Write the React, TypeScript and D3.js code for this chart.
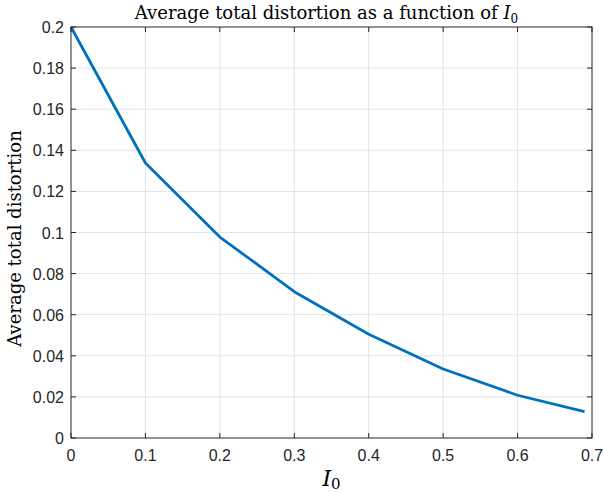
import * as d3 from "d3";
import { useEffect, useRef } from "react";

// I0 values and average distortion
const i0Values = [0, 0.1, 0.2, 0.3, 0.4, 0.5, 0.6, 0.69];
const distortion = [0.2, 0.1338, 0.0978, 0.0712, 0.0505, 0.0336, 0.0208, 0.0128];
const xTicks = [0, 0.1, 0.2, 0.3, 0.4, 0.5, 0.6, 0.7];
const yTicks = [0, 0.02, 0.04, 0.06, 0.08, 0.1, 0.12, 0.14, 0.16, 0.18, 0.2];

function App() {
    const svgRef = useRef<SVGSVGElement>(null);

    useEffect(() => {
        const svg = d3.select(svgRef.current);
        svg.selectAll("*").remove();

        const width = 603;
        const height = 493;
        const margin = { top: 27, right: 11, bottom: 55, left: 71 };
        const tickLen = 5;
        const sans = "'Liberation Sans', Arial, sans-serif";
        const serif = "'DejaVu Serif', 'Liberation Serif', serif";

        const x = d3.scaleLinear().domain([0, 0.7]).range([margin.left, width - margin.right]);
        const y = d3.scaleLinear().domain([0, 0.2]).range([height - margin.bottom, margin.top]);

        const [x0, x1] = x.range();
        const [y0, y1] = y.range();

        // grid
        const grid = svg.append("g").attr("stroke", "#e3e3e3").attr("stroke-width", 1);
        grid.selectAll("line.vx")
            .data(xTicks.slice(1, -1))
            .enter()
            .append("line")
            .attr("x1", d => x(d)).attr("x2", d => x(d))
            .attr("y1", y0).attr("y2", y1);
        grid.selectAll("line.hy")
            .data(yTicks.slice(1, -1))
            .enter()
            .append("line")
            .attr("y1", d => y(d)).attr("y2", d => y(d))
            .attr("x1", x0).attr("x2", x1);

        // line
        const line = d3.line<number>()
            .x((_, i) => x(i0Values[i]))
            .y(d => y(d));
        svg.append("path")
            .datum(distortion)
            .attr("fill", "none")
            .attr("stroke", "#0072BD")
            .attr("stroke-width", 2.8)
            .attr("stroke-linejoin", "round")
            .attr("d", line);

        // box + inner ticks
        const axes = svg.append("g").attr("stroke", "#262626").attr("stroke-width", 1);
        axes.append("rect")
            .attr("x", x0).attr("y", y1)
            .attr("width", x1 - x0).attr("height", y0 - y1)
            .attr("fill", "none");
        xTicks.forEach(t => {
            axes.append("line").attr("x1", x(t)).attr("x2", x(t)).attr("y1", y0).attr("y2", y0 - tickLen);
            axes.append("line").attr("x1", x(t)).attr("x2", x(t)).attr("y1", y1).attr("y2", y1 + tickLen);
        });
        yTicks.forEach(t => {
            axes.append("line").attr("y1", y(t)).attr("y2", y(t)).attr("x1", x0).attr("x2", x0 + tickLen);
            axes.append("line").attr("y1", y(t)).attr("y2", y(t)).attr("x1", x1).attr("x2", x1 - tickLen);
        });

        // tick labels
        svg.append("g")
            .selectAll("text")
            .data(xTicks)
            .enter()
            .append("text")
            .attr("x", d => x(d))
            .attr("y", y0 + 23)
            .attr("text-anchor", "middle")
            .style("font-family", sans)
            .style("font-size", "16px")
            .attr("fill", "#262626")
            .text(d => d3.format("")(d));
        svg.append("g")
            .selectAll("text")
            .data(yTicks)
            .enter()
            .append("text")
            .attr("x", x0 - 7)
            .attr("y", d => y(d) + 6)
            .attr("text-anchor", "end")
            .style("font-family", sans)
            .style("font-size", "16px")
            .attr("fill", "#262626")
            .text(d => d3.format("")(+d.toFixed(2)));

        // title
        const title = svg.append("text")
            .attr("x", (x0 + x1) / 2 - 5)
            .attr("y", 18.5)
            .attr("text-anchor", "middle")
            .style("font-family", serif)
            .style("font-size", "18px")
            .attr("fill", "#000");
        title.append("tspan").text("Average total distortion as a function of ");
        title.append("tspan").style("font-style", "italic").text("I");
        title.append("tspan").attr("dy", 4).style("font-size", "12px").text("0");

        // x label
        const xl = svg.append("text")
            .attr("x", (x0 + x1) / 2)
            .attr("y", 486)
            .attr("text-anchor", "middle")
            .style("font-family", serif)
            .style("font-size", "22px")
            .attr("fill", "#000");
        xl.append("tspan").style("font-style", "italic").text("I");
        xl.append("tspan").attr("dy", 3).style("font-size", "15px").text("0");

        // y label
        svg.append("text")
            .attr("transform", `translate(21, ${(y0 + y1) / 2 + 6}) rotate(-90)`)
            .attr("text-anchor", "middle")
            .style("font-family", serif)
            .style("font-size", "18px")
            .attr("fill", "#000")
            .text("Average total distortion");
    }, []);

    return <svg ref={svgRef} width={603} height={493} style={{ position: "absolute", left: 0, top: 0 }} />;
}

export default App;
